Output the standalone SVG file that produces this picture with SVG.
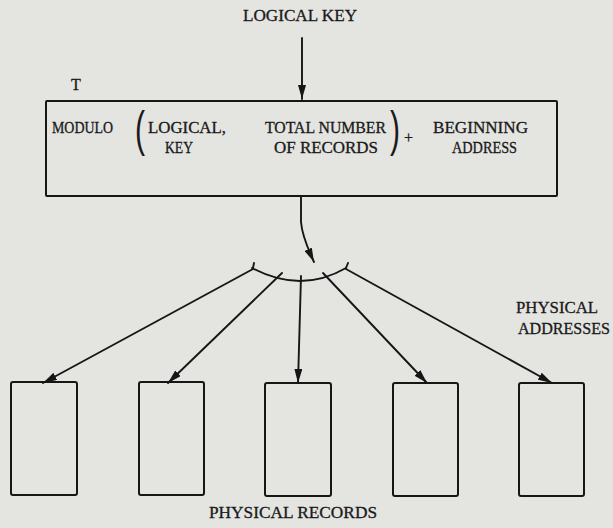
<svg xmlns="http://www.w3.org/2000/svg" width="613" height="528" viewBox="0 0 613 528">
<defs>
<style>
.bg{fill:#e4e4e1}
.ln{fill:none;stroke:#161616;stroke-width:1.9;stroke-linecap:round;stroke-linejoin:round}
.bx{fill:none;stroke:#161616;stroke-width:2}
.t{font-family:"Liberation Serif","DejaVu Serif",serif;font-size:16px;fill:#1a1a1a;stroke:#1a1a1a;stroke-width:0.3}
.p{font-family:"Liberation Sans",Arial,sans-serif;font-size:50px;fill:#1a1a1a}
</style>
<marker id="ah" viewBox="0 0 14 8" markerWidth="14" markerHeight="8" refX="14" refY="4" orient="auto" markerUnits="userSpaceOnUse">
<path d="M0,0 L14,4 L0,8 z" fill="#161616"/>
</marker>
</defs>
<rect class="bg" x="0" y="0" width="613" height="528"/>

<g id="input-label">
<text class="t" x="243" y="21" textLength="114" lengthAdjust="spacingAndGlyphs">LOGICAL KEY</text>
</g>

<g id="hash-function">
<rect class="bx" x="46" y="101" width="511" height="95" rx="1"/>
<text class="t" x="71" y="90">T</text>
<text class="t" x="52" y="133" textLength="61" lengthAdjust="spacingAndGlyphs">MODULO</text>
<text class="p" x="135" y="146" transform="translate(135 0) scale(0.6 1) translate(-135 0)">(</text>
<text class="t" x="148" y="133" textLength="78" lengthAdjust="spacingAndGlyphs">LOGICAL,</text>
<text class="t" x="165" y="153" textLength="28" lengthAdjust="spacingAndGlyphs">KEY</text>
<text class="t" x="265" y="133" textLength="121" lengthAdjust="spacingAndGlyphs">TOTAL NUMBER</text>
<text class="t" x="274" y="153" textLength="104" lengthAdjust="spacingAndGlyphs">OF RECORDS</text>
<text class="p" x="390" y="146" transform="translate(390 0) scale(0.6 1) translate(-390 0)">)</text>
<text class="t" x="404" y="143">+</text>
<text class="t" x="433" y="133" textLength="95" lengthAdjust="spacingAndGlyphs">BEGINNING</text>
<text class="t" x="452" y="153" textLength="65" lengthAdjust="spacingAndGlyphs">ADDRESS</text>
</g>

<g id="addresses">
<path class="ln" d="M252,268 Q301,294 346,268"/>
<path class="ln" d="M253,268 L254,263 M346,268 L348,263"/>
<text class="t" x="516" y="313" textLength="82" lengthAdjust="spacingAndGlyphs">PHYSICAL</text>
<text class="t" x="518" y="334" textLength="92" lengthAdjust="spacingAndGlyphs">ADDRESSES</text>
</g>

<g id="record-1"><rect class="bx" x="11" y="382" width="66" height="113" rx="2"/></g>
<g id="record-2"><rect class="bx" x="139" y="382" width="65" height="113" rx="2"/></g>
<g id="record-3"><rect class="bx" x="265" y="383" width="66" height="113" rx="2"/></g>
<g id="record-4"><rect class="bx" x="393" y="383" width="65" height="113" rx="2"/></g>
<g id="record-5"><rect class="bx" x="519" y="383" width="65" height="113" rx="2"/></g>

<g id="records-label">
<text class="t" x="209" y="518" textLength="168" lengthAdjust="spacingAndGlyphs">PHYSICAL RECORDS</text>
</g>

<g id="connectors">
<path class="ln" d="M302,38 L302,99" marker-end="url(#ah)"/>
<path class="ln" d="M301,196 L301,222 Q302,236 314,262" marker-end="url(#ah)"/>
<path class="ln" d="M253,269 L43,383" marker-end="url(#ah)"/>
<path class="ln" d="M282,273 L168,383" marker-end="url(#ah)"/>
<path class="ln" d="M301,276 L298,383" marker-end="url(#ah)"/>
<path class="ln" d="M323,273 L427,383" marker-end="url(#ah)"/>
<path class="ln" d="M346,269 L552,383" marker-end="url(#ah)"/>
</g>
</svg>
